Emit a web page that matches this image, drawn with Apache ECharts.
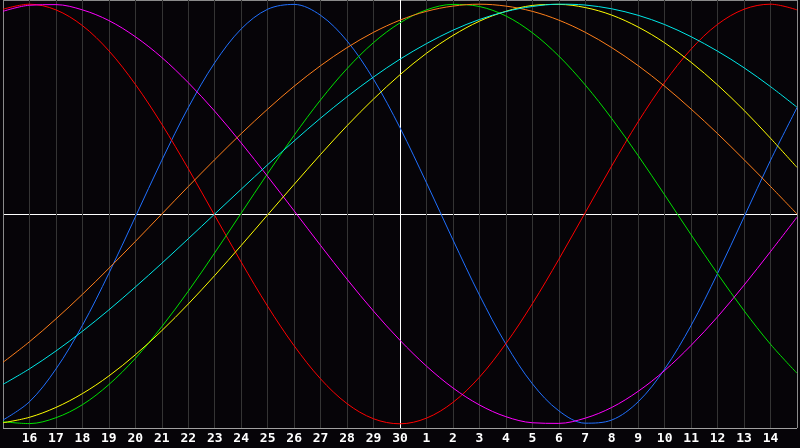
<!DOCTYPE html>
<html>
<head>
<meta charset="utf-8">
<script src="https://cdn.jsdelivr.net/npm/echarts@6/dist/echarts.min.js"></script>
<style>
html,body{margin:0;padding:0;background:#060408;}
#chart{width:800px;height:448px;}
</style>
</head>
<body>
<div id="chart"></div>
<script>
// day positions 0..30 (0 = 15th, 15 = 30th, 30 = 15th of next month)
const dayLabels = ['15','16','17','18','19','20','21','22','23','24','25','26','27','28','29','30',
  '1','2','3','4','5','6','7','8','9','10','11','12','13','14','15'];

const blueVals = [-0.982,-0.895,-0.739,-0.531,-0.283,-0.014,0.256,0.507,0.721,0.882,0.976,0.999,0.947,0.825,0.642,0.411,0.149,-0.123,-0.386,-0.620,-0.809,-0.938,-0.997,-0.982,-0.895,-0.739,-0.531,-0.283,-0.014,0.256,0.507];
const redVals = [0.976,1.000,0.973,0.898,0.778,0.618,0.428,0.216,-0.007,-0.229,-0.440,-0.628,-0.786,-0.904,-0.976,-1.000,-0.973,-0.898,-0.778,-0.618,-0.428,-0.216,0.007,0.229,0.440,0.628,0.786,0.904,0.976,1.000,0.973];
const greenVals = [-0.990,-0.999,-0.971,-0.909,-0.813,-0.688,-0.537,-0.368,-0.185,0.004,0.193,0.375,0.544,0.693,0.817,0.911,0.973,0.999,0.989,0.944,0.864,0.753,0.615,0.455,0.278,0.091,-0.099,-0.285,-0.461,-0.621,-0.759];
const magentaVals = [0.966,0.995,0.998,0.973,0.922,0.845,0.746,0.626,0.490,0.339,0.179,0.015,-0.150,-0.311,-0.463,-0.602,-0.725,-0.829,-0.910,-0.966,-0.995,-0.998,-0.973,-0.922,-0.845,-0.746,-0.626,-0.490,-0.339,-0.179,-0.015];
const yellowVals = [-0.995,-0.969,-0.922,-0.856,-0.772,-0.671,-0.556,-0.429,-0.293,-0.150,-0.004,0.141,0.284,0.421,0.548,0.664,0.766,0.851,0.919,0.966,0.994,0.999,0.984,0.948,0.891,0.816,0.723,0.615,0.494,0.361,0.222];
const orangeVals = [-0.707,-0.609,-0.500,-0.383,-0.259,-0.131,0.000,0.131,0.259,0.383,0.500,0.609,0.707,0.793,0.866,0.924,0.966,0.991,1.000,0.991,0.966,0.924,0.866,0.793,0.707,0.609,0.500,0.383,0.259,0.131,0.000];
const cyanVals = [-0.812,-0.738,-0.653,-0.559,-0.457,-0.348,-0.235,-0.118,0.000,0.118,0.235,0.348,0.457,0.559,0.653,0.738,0.812,0.876,0.927,0.965,0.989,1.000,0.996,0.978,0.947,0.903,0.845,0.776,0.697,0.607,0.509];

const seriesDefs = [
  {name:'blue', color:'#2070ff', vals: blueVals},
  {name:'red', color:'#ff0000', vals: redVals},
  {name:'green', color:'#00e000', vals: greenVals},
  {name:'magenta', color:'#ff00ff', vals: magentaVals},
  {name:'yellow', color:'#ffff00', vals: yellowVals},
  {name:'orange', color:'#ff7f1a', vals: orangeVals},
  {name:'cyan', color:'#00e8e8', vals: cyanVals}
];

const xLineColors = dayLabels.map((_, i) => i === 0 || i === 30 ? '#8a8a8a' : (i === 15 ? '#ffffff' : '#343434'));

const chart = echarts.init(document.getElementById('chart'), null, {renderer:'canvas'});
chart.setOption({
  backgroundColor: '#060408',
  animation: false,
  grid: {left: 0, right: 0, top: 0, height: 428, containLabel: false},
  xAxis: {
    type: 'value', min: 0, max: 30, interval: 1,
    axisLine: {show: false}, axisTick: {show: false},
    splitLine: {show: true, showMinLine: true, showMaxLine: true, lineStyle: {color: xLineColors, width: 1}},
    axisLabel: {
      show: true, color: '#ffffff', fontWeight: 'bold', fontSize: 13,
      fontFamily: 'DejaVu Sans Mono', margin: 4,
      formatter: function (v) { return (v <= 0 || v >= 30) ? '' : dayLabels[Math.round(v)]; }
    }
  },
  yAxis: {
    type: 'value', min: -1.02, max: 1.02, interval: 1.02,
    axisLine: {show: false}, axisTick: {show: false}, axisLabel: {show: false},
    splitLine: {show: true, showMinLine: true, showMaxLine: true, lineStyle: {color: ['#a0a0a0', '#ffffff', '#8a8a8a'], width: 1}}
  },
  series: seriesDefs.map(s => ({
    name: s.name, type: 'line', smooth: 0.34, showSymbol: false, symbol: 'none',
    lineStyle: {color: s.color, width: 1}, itemStyle: {color: s.color},
    data: s.vals.map((v, i) => [i, v])
  }))
});
</script>
</body>
</html>
